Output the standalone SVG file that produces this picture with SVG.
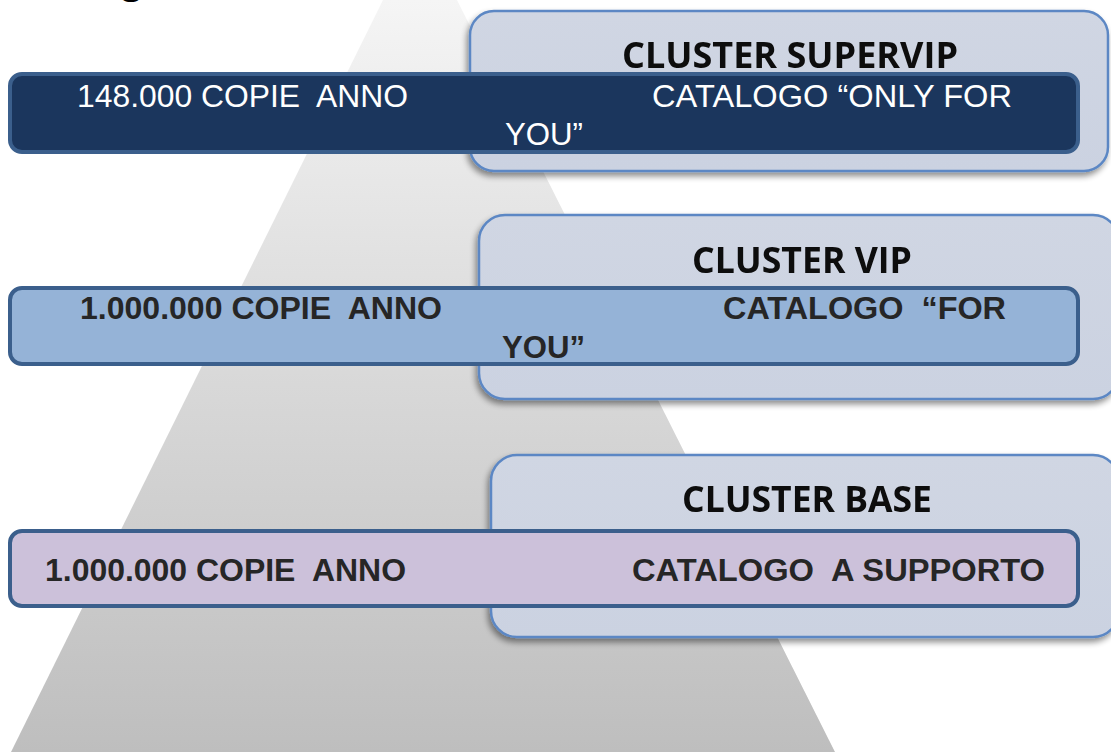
<svg xmlns="http://www.w3.org/2000/svg" width="1111" height="752" viewBox="0 0 1111 752">
  <defs>
    <linearGradient id="pyr" x1="0" y1="0" x2="0" y2="1">
      <stop offset="0" stop-color="#f5f5f5"/>
      <stop offset="0.4" stop-color="#dedede"/>
      <stop offset="1" stop-color="#bebebe"/>
    </linearGradient>
    <linearGradient id="clu" x1="0" y1="0" x2="0" y2="1">
      <stop offset="0" stop-color="#d0d6e3"/>
      <stop offset="1" stop-color="#cbd2e1"/>
    </linearGradient>
    <filter id="sh" x="-5%" y="-10%" width="110%" height="125%">
      <feGaussianBlur in="SourceAlpha" stdDeviation="3"/>
      <feOffset dx="-2" dy="4" result="b"/>
      <feComponentTransfer><feFuncA type="linear" slope="0.45"/></feComponentTransfer>
      <feMerge><feMergeNode/><feMergeNode in="SourceGraphic"/></feMerge>
    </filter>
  </defs>
  <style>
    .cluster { fill: url(#clu); stroke: #5b87c4; stroke-width: 2.5; }
    .ctitle { font-family: "Open Sans", "Liberation Sans", sans-serif; font-weight: bold; font-size: 36px; fill: #0d0d0d; }
    .bar { stroke: #3b5f8c; stroke-width: 4; }
    .t1 { font-family: "Liberation Sans", Arial, sans-serif; font-size: 31px; fill: #ffffff; }
    .t2 { font-family: "Liberation Sans", Arial, sans-serif; font-weight: bold; font-size: 31px; fill: #262626; }
  </style>

  <rect width="1111" height="752" fill="#ffffff"/>

  <g id="pyramid">
    <polygon points="383,0 457,0 835,752 11,752" fill="url(#pyr)"/>
    <line x1="459" y1="0" x2="837" y2="752" stroke="#ffffff" stroke-width="2.5" opacity="0.9"/>
  </g>

  <text x="118" y="-7" style="font-family:'Liberation Sans',Arial,sans-serif;font-weight:bold;font-size:44px;fill:#000">g</text>

  <g id="cluster-supervip" filter="url(#sh)">
    <rect class="cluster" x="470" y="11" width="638" height="160" rx="24"/>
    <text class="ctitle" x="622" y="68" textLength="336" lengthAdjust="spacingAndGlyphs">CLUSTER SUPERVIP</text>
  </g>
  <g id="cluster-vip" filter="url(#sh)">
    <rect class="cluster" x="479" y="215" width="640" height="184" rx="26"/>
    <text class="ctitle" x="692" y="273" textLength="220" lengthAdjust="spacingAndGlyphs">CLUSTER VIP</text>
  </g>
  <g id="cluster-base" filter="url(#sh)">
    <rect class="cluster" x="491" y="455" width="628" height="182" rx="26"/>
    <text class="ctitle" x="682" y="512" textLength="250" lengthAdjust="spacingAndGlyphs">CLUSTER BASE</text>
  </g>

  <g id="bar-supervip">
    <rect class="bar" x="10" y="74" width="1068" height="78" rx="12" fill="#1b365d"/>
    <text class="t1" x="77" y="107" textLength="331" lengthAdjust="spacingAndGlyphs" xml:space="preserve">148.000 COPIE  ANNO</text>
    <text class="t1" x="652" y="107" textLength="360" lengthAdjust="spacingAndGlyphs">CATALOGO “ONLY FOR</text>
    <text class="t1" x="505" y="145" textLength="78" lengthAdjust="spacingAndGlyphs">YOU”</text>
  </g>
  <g id="bar-vip">
    <rect class="bar" x="10" y="288" width="1068" height="76" rx="12" fill="#95b3d7"/>
    <text class="t2" x="80" y="319" textLength="362" lengthAdjust="spacingAndGlyphs" xml:space="preserve">1.000.000 COPIE  ANNO</text>
    <text class="t2" x="723" y="319" textLength="283" lengthAdjust="spacingAndGlyphs" xml:space="preserve">CATALOGO  “FOR</text>
    <text class="t2" x="502" y="358" textLength="83" lengthAdjust="spacingAndGlyphs">YOU”</text>
  </g>
  <g id="bar-base">
    <rect class="bar" x="10" y="531" width="1068" height="75" rx="12" fill="#ccc1da"/>
    <text class="t2" x="45" y="581" textLength="361" lengthAdjust="spacingAndGlyphs" xml:space="preserve">1.000.000 COPIE  ANNO</text>
    <text class="t2" x="632" y="581" textLength="413" lengthAdjust="spacingAndGlyphs" xml:space="preserve">CATALOGO  A SUPPORTO</text>
  </g>
  <g id="connectors"/>
</svg>
